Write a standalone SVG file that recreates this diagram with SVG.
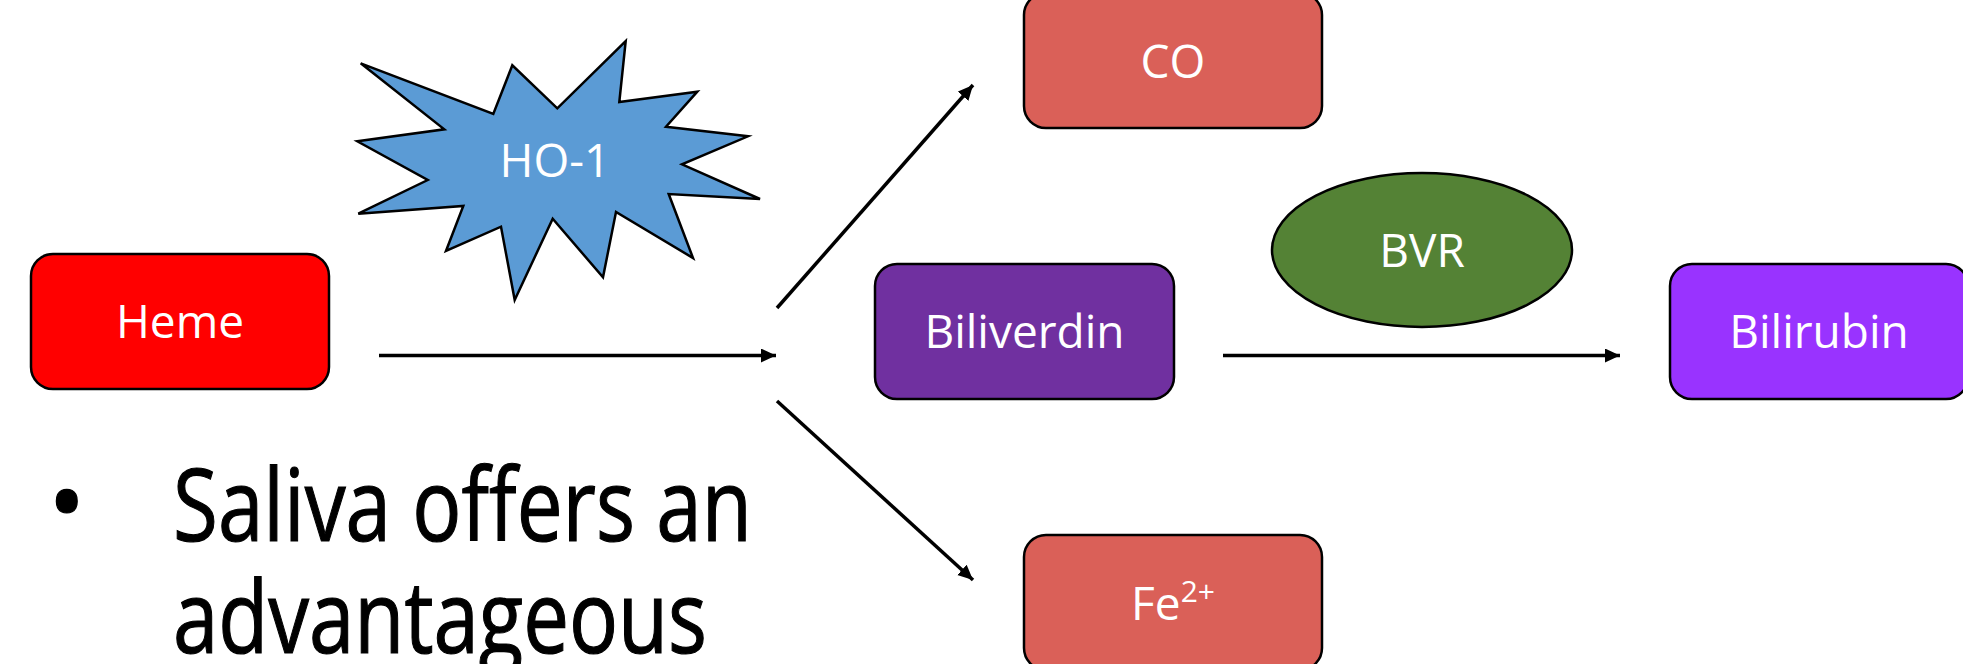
<svg xmlns="http://www.w3.org/2000/svg" width="1963" height="664" viewBox="0 0 1963 664">
<defs>
<marker id="ah" markerUnits="userSpaceOnUse" markerWidth="18" markerHeight="16" refX="15" refY="7" orient="auto">
<path d="M0,0 L15,7 L0,14 z" fill="#000"/>
</marker>
<style>
.box{stroke:#000;stroke-width:2.5}
.lbl{font-family:"Open Sans","Liberation Sans",sans-serif;font-size:46px;fill:#fff;text-anchor:middle}
.con{stroke:#000;stroke-width:3.5;fill:none;marker-end:url(#ah)}
.bul{font-family:"Open Sans","Liberation Sans",sans-serif;font-size:100px;fill:#000;stroke:#000;stroke-width:1.2}
</style>
</defs>
<rect width="1963" height="664" fill="#fff"/>
<g id="connectors">
<line class="con" x1="379" y1="355.5" x2="776" y2="355.5"/>
<line class="con" x1="777" y1="308" x2="973" y2="85"/>
<line class="con" x1="777" y1="401" x2="973" y2="580"/>
<line class="con" x1="1223" y1="355.5" x2="1620" y2="355.5"/>
</g>
<g id="heme">
<rect class="box" x="31" y="254" width="298" height="135" rx="22" fill="#ff0000"/>
<text class="lbl" x="180" y="338">Heme</text>
</g>
<g id="ho1">
<polygon class="box" fill="#5b9bd5" points="360.7,63.3 493.3,114 512.3,65.3 557.3,108.3 625.7,41 619.3,102 697.3,91.7 666,126.7 748,136.3 682,164.3 760,199 668.7,194 693,258 616,212 603,277.3 552.7,218.7 514.7,300 501,226.7 446,251 463.3,206 358.3,213.7 427.7,180 357.3,141.3 444.3,129.3"/>
<text class="lbl" x="555" y="177">HO-1</text>
</g>
<g id="co">
<rect class="box" x="1024" y="-7" width="298" height="135" rx="22" fill="#da6058"/>
<text class="lbl" x="1173" y="78">CO</text>
</g>
<g id="biliverdin">
<rect class="box" x="875" y="264" width="299" height="135" rx="22" fill="#7030a0"/>
<text class="lbl" x="1024.5" y="348">Biliverdin</text>
</g>
<g id="bvr">
<ellipse class="box" cx="1422" cy="250" rx="150" ry="77" fill="#548235"/>
<text class="lbl" x="1422" y="267">BVR</text>
</g>
<g id="bilirubin">
<rect class="box" x="1670" y="264" width="298" height="135" rx="22" fill="#9933ff"/>
<text class="lbl" x="1819" y="348">Bilirubin</text>
</g>
<g id="fe">
<rect class="box" x="1024" y="535" width="298" height="135" rx="22" fill="#da6058"/>
<text class="lbl" x="1173" y="620">Fe<tspan font-size="30px" dy="-18">2+</tspan></text>
</g>
<g id="bullet">
<text class="bul" x="48" y="538">•</text>
<text class="bul" x="173" y="541" textLength="579" lengthAdjust="spacingAndGlyphs">Saliva offers an</text>
<text class="bul" x="173" y="653" textLength="534" lengthAdjust="spacingAndGlyphs">advantageous</text>
</g>
</svg>
